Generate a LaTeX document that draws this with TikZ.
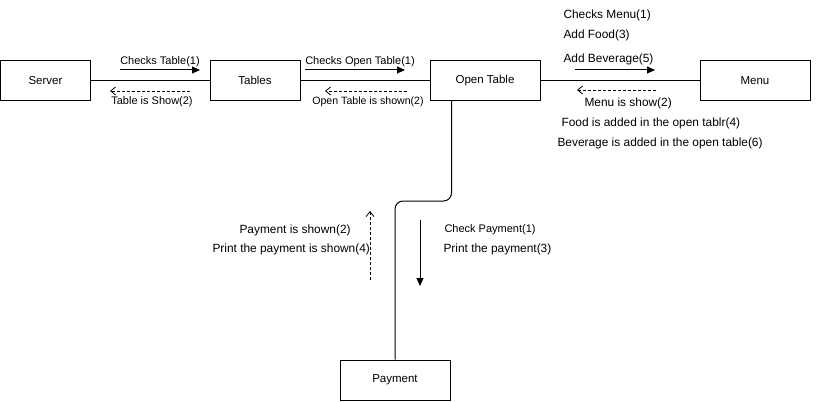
\documentclass[tikz,border=0pt]{standalone}
\usepackage{fontspec}
\setmainfont{Liberation Sans}
\usetikzlibrary{arrows.meta}

\begin{document}
\begin{tikzpicture}[x=1pt,y=-1pt,line width=1pt,
    box/.style={draw,minimum height=40pt,font=\fontsize{11.5}{13}\selectfont},
    lbl/.style={font=\fontsize{11}{13}\selectfont,inner sep=0pt,yshift=-1.5pt},
    biglbl/.style={lbl,anchor=west,font=\fontsize{11.9}{14}\selectfont},
    go/.style={-{Triangle[length=8pt,width=7pt]}},
    back/.style={line width=0.8pt,dash pattern=on 3pt off 2pt,-{Straight Barb[length=5pt,width=8pt]}}]
  \useasboundingbox (0,0) rectangle (826,401);
  % boxes
  \node[box,minimum width=90pt] (server) at (45.5,80.5) {Server};
  \node[box,minimum width=90pt] (tables) at (255,80.5) {Tables};
  \node[box,minimum width=110pt] (opentable) at (485,80.5) {Open Table};
  \node[box,minimum width=110pt] (menu) at (755,80.5) {Menu};
  \node[box,minimum width=110pt] (payment) at (395,380) {Payment};
  % links
  \draw (server) -- (tables);
  \draw (tables) -- (opentable);
  \draw (opentable) -- (menu);
  \draw[rounded corners=8pt] ([xshift=22pt]opentable.south west) -- ++(0,100) -| (payment.north);
  % server <-> tables
  \draw[go] (120,70) -- (200,70);
  \node[lbl] (checktable) at (160,60.5) {Checks Table(1)};
  \draw[back] (190,91) -- (110,91);
  \node[lbl] (tableshow) at (152,100.5) {Table is Show(2)};
  % tables <-> open table
  \draw[go] (305,70) -- (405,70);
  \node[lbl] (checkopen) at (360,60.5) {Checks Open Table(1)};
  \draw[back] (407,91) -- (325,91);
  \node[lbl,font=\fontsize{10.6}{13}\selectfont] (openshown) at (368,100.5) {Open Table is shown(2)};
  % open table <-> menu
  \node[biglbl] (checkmenu) at (563,14) {Checks Menu(1)};
  \node[biglbl] (addfood) at (563,34) {Add Food(3)};
  \node[biglbl] (addbev) at (563,58) {Add Beverage(5)};
  \draw[go] (575,70) -- (655,70);
  \draw[back] (656,90) -- (577,90);
  \node[biglbl] (menushow) at (584,102) {Menu is show(2)};
  \node[biglbl] (foodadded) at (561,122) {Food is added in the open tablr(4)};
  \node[biglbl] (bevadded) at (557,142) {Beverage is added in the open table(6)};
  % open table <-> payment
  \draw[back] (370,280) -- (370,211);
  \node[biglbl] (payshown) at (239,229) {Payment is shown(2)};
  \node[biglbl] (printshown) at (212,248) {Print the payment is shown(4)};
  \draw[go] (420,220) -- (420,286);
  \node[lbl,anchor=west] (checkpay) at (444,228) {Check Payment(1)};
  \node[biglbl] (printpay) at (443,248) {Print the payment(3)};
\end{tikzpicture}
\end{document}
